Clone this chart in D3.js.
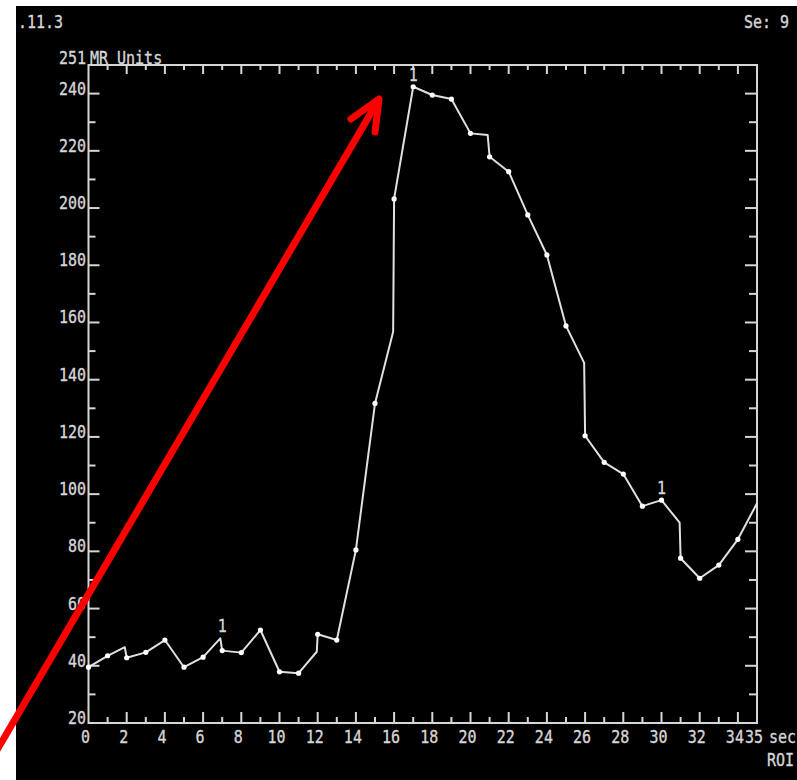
<!DOCTYPE html>
<html><head><meta charset="utf-8">
<script src="https://cdn.jsdelivr.net/npm/d3@7"></script>
<style>html,body{margin:0;padding:0;background:#fff;}svg{display:block;}</style>
</head><body>
<script>
// ---- data ----
const sampleTimes  = [0,1,2,3,4,5,6,7,8,9,10,11,12,13,14,15,16,17,18,19,20,21,22,23,24,25,26,27,28,29,30,31,32,33,34];
const sampleValues = [39.5,43.5,42.8,44.7,49.0,39.5,43.0,45.3,44.6,52.5,37.9,37.4,51.0,49.0,80.5,131.7,203.2,242.4,239.5,238.1,226.1,217.9,212.7,197.6,183.6,158.8,120.4,111.1,107.0,95.8,97.9,77.6,70.6,75.2,84.2];
// line vertices without a dot
const vertexTimes  = [1.9,6.9,11.95,15.95,20.9,25.95,30.95,35];
const vertexValues = [46.5,49.6,44.9,156.8,225.5,145.9,90.0,96.8];
// "1" markers
const markerTimes  = [7,17,30];
const markerValues = [49.6,242.4,97.9];
const markerText   = ["1","1","1"];
// axes
const xTickLabels  = [0,2,4,6,8,10,12,14,16,18,20,22,24,26,28,30,32,34,35];
const yTickLabels  = [20,40,60,80,100,120,140,160,180,200,220,240];
const yMaxLabel    = 251;
const yUnit        = "MR Units";
const xUnit        = "sec";
const cornerTL = ".11.3", cornerTR = "Se: 9", roiText = "ROI";

// ---- drawing ----
const W = 797, H = 780;
const svg = d3.select("body").append("svg").attr("width", W).attr("height", H);
svg.append("rect").attr("x",16).attr("y",6).attr("width",W-16).attr("height",H-6).attr("fill","#000");

const x = d3.scaleLinear().domain([0,35]).range([88.5,757]);
const y = d3.scaleLinear().domain([20,250]).range([723,65]);
const fg = "#d6d6d6";
const font = "DejaVu Sans Mono, Liberation Mono, monospace";

function txt(px, py, s, anchor) {
  return svg.append("text")
    .attr("transform", `translate(${px},${py}) scale(1,1.2)`)
    .attr("text-anchor", anchor || "start")
    .attr("font-family", font).attr("font-size", 15)
    .attr("fill", fg).attr("stroke", fg).attr("stroke-width", 0.3)
    .text(s);
}

// frame
svg.append("rect").attr("x", x(0)).attr("y", y(250))
  .attr("width", x(35)-x(0)).attr("height", y(20)-y(250))
  .attr("fill","none").attr("stroke", fg).attr("stroke-width", 2);

// x ticks bottom & top
const xt = d3.range(1,35);
svg.append("g").selectAll("line.b").data(xt).join("line")
  .attr("x1", d=>x(d)).attr("x2", d=>x(d))
  .attr("y1", y(20)).attr("y2", d=> y(20) - (d%2===0 ? 11 : 6))
  .attr("stroke", fg).attr("stroke-width", 2);
svg.append("g").selectAll("line.t").data(xt).join("line")
  .attr("x1", d=>x(d)).attr("x2", d=>x(d))
  .attr("y1", y(250)).attr("y2", d=> y(250) + (d%2===0 ? 9 : 5))
  .attr("stroke", fg).attr("stroke-width", 2);
// y ticks left & right
const yt = d3.range(30,250,10);
svg.append("g").selectAll("line").data(yt).join("line")
  .attr("x1", x(0)).attr("x2", d=> x(0) + (d%20===0 ? 11 : 7))
  .attr("y1", d=>y(d)).attr("y2", d=>y(d))
  .attr("stroke", fg).attr("stroke-width", 2);
svg.append("g").selectAll("line").data(yt).join("line")
  .attr("x1", x(35)).attr("x2", d=> x(35) - (d%20===0 ? 12 : 8))
  .attr("y1", d=>y(d)).attr("y2", d=>y(d))
  .attr("stroke", fg).attr("stroke-width", 2);

// tick labels
xTickLabels.forEach(d => txt(x(d) - 3, 743, String(d), "middle"));
yTickLabels.forEach(d => txt(86, y(d) + 1, String(d), "end"));
txt(86, y(yMaxLabel) + 2, String(yMaxLabel), "end");
txt(90, y(yMaxLabel) + 2, yUnit, "start");
txt(796, 743, xUnit, "end");
txt(794, 766, roiText, "end");
txt(18, 28, cornerTL, "start");
txt(789, 28, cornerTR, "end");

// curve
const pts = sampleTimes.map((t,i)=>({t, v: sampleValues[i], dot:true}))
  .concat(vertexTimes.map((t,i)=>({t, v: vertexValues[i], dot:false})))
  .sort((a,b)=>a.t-b.t);
svg.append("path").datum(pts)
  .attr("d", d3.line().x(d=>x(d.t)).y(d=>y(d.v)))
  .attr("fill","none").attr("stroke","#e0e0e0").attr("stroke-width",2)
  .attr("stroke-linejoin","round");
svg.append("g").selectAll("circle").data(pts.filter(d=>d.dot)).join("circle")
  .attr("cx", d=>x(d.t)).attr("cy", d=>y(d.v)).attr("r", 2.6).attr("fill","#fff");

// markers
markerTimes.forEach((t,i)=> txt(x(t), y(markerValues[i]) - 6, markerText[i], "middle"));

// red arrow
const tip = [379, 99];
svg.append("line").attr("x1",-3).attr("y1",750).attr("x2",tip[0]-1).attr("y2",tip[1]+2)
  .attr("stroke","#ff0000").attr("stroke-width",7).attr("stroke-linecap","round");
svg.append("path").attr("d", `M351,119 L${tip[0]},${tip[1]} L375,132`)
  .attr("fill","none").attr("stroke","#ff0000").attr("stroke-width",7)
  .attr("stroke-linecap","round").attr("stroke-linejoin","round");
</script>
</body></html>
